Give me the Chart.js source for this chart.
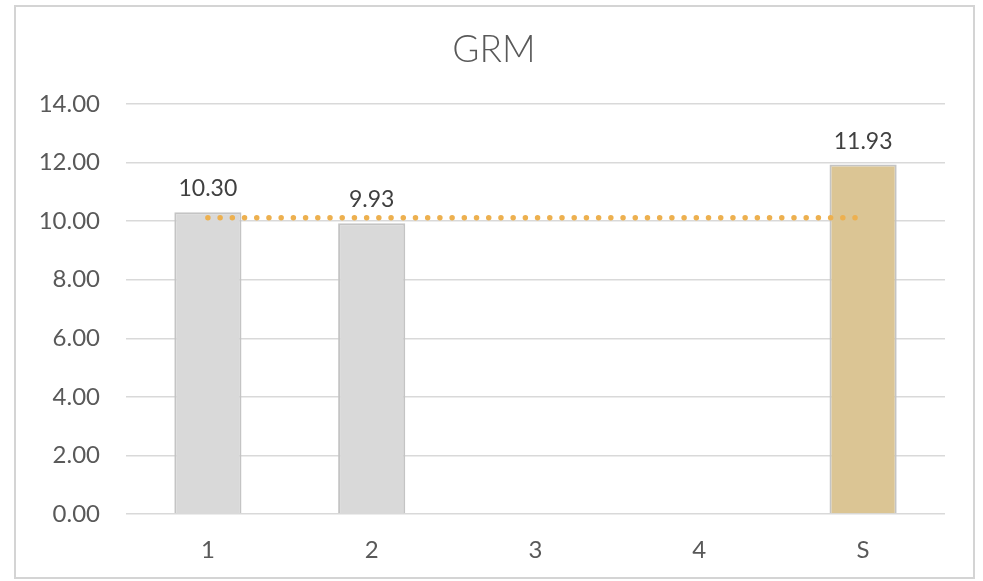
<!DOCTYPE html>
<html>
<head>
<meta charset="utf-8">
<script src="https://cdn.jsdelivr.net/npm/chart.js@4/dist/chart.umd.min.js"></script>
<style>
  html, body { margin: 0; padding: 0; background: #ffffff; }
  #wrap { position: relative; width: 983px; height: 581px; }
</style>
</head>
<body>
<div id="wrap"><canvas id="grm" width="983" height="581"></canvas></div>
<script>
// Chart data
const chartTitle = 'GRM';
const categories = ['1', '2', '3', '4', 'S'];
const grmValues = [10.30, 9.93, null, null, 11.93];
const averageValues = [10.12, 10.12, 10.12, 10.12, 10.12];
const barColors = ['#d9d9d9', '#d9d9d9', '#d9d9d9', '#d9d9d9', '#dbc594'];
const yTicks = { min: 0, max: 14, step: 2 };

const FONT = 'Lato, "Open Sans", sans-serif';

// Frame around the chart and the centred title
const framePlugin = {
  id: 'frame',
  beforeDraw(chart) {
    const ctx = chart.ctx;
    ctx.save();
    ctx.fillStyle = '#ffffff';
    ctx.fillRect(0, 0, chart.width, chart.height);
    ctx.strokeStyle = '#d4d4d4';
    ctx.lineWidth = 2;
    ctx.strokeRect(15, 6, 959, 572);
    ctx.font = '300 37px ' + FONT;
    ctx.fillStyle = '#595959';
    ctx.textAlign = 'center';
    ctx.textBaseline = 'middle';
    ctx.fillText(chartTitle, 494, 50);
    ctx.restore();
  }
};

// Value labels above the bars
const valueLabels = {
  id: 'valueLabels',
  afterDatasetsDraw(chart) {
    const ctx = chart.ctx;
    const meta = chart.getDatasetMeta(1);
    ctx.save();
    ctx.font = '400 23px ' + FONT;
    ctx.fillStyle = '#404040';
    ctx.textAlign = 'center';
    ctx.textBaseline = 'alphabetic';
    meta.data.forEach((bar, i) => {
      const v = grmValues[i];
      if (v === null || v === undefined) return;
      ctx.fillText(v.toFixed(2), bar.x, bar.y - 16);
    });
    ctx.restore();
  }
};

new Chart(document.getElementById('grm'), {
  data: {
    labels: categories,
    datasets: [
      {
        type: 'line',
        label: 'Average',
        data: averageValues,
        borderColor: '#edb04f',
        borderWidth: 5.5,
        borderDash: [0.01, 12.2],
        borderCapStyle: 'round',
        pointRadius: 0,
        fill: false,
        order: 0
      },
      {
        type: 'bar',
        label: 'GRM',
        data: grmValues,
        backgroundColor: barColors,
        borderColor: '#c4c4c4',
        borderWidth: 2,
        barPercentage: 1,
        categoryPercentage: 0.41,
        order: 1
      }
    ]
  },
  options: {
    responsive: false,
    animation: false,
    devicePixelRatio: 1,
    layout: { padding: { top: 104, right: 38, bottom: 0, left: 0 } },
    plugins: {
      legend: { display: false },
      tooltip: { enabled: false },
      title: { display: false }
    },
    scales: {
      x: {
        grid: { display: false, drawTicks: false },
        border: { display: false },
        ticks: {
          color: '#595959',
          font: { family: FONT, size: 24, weight: '400' },
          padding: 22
        },
        afterFit(scale) { scale.height = 67; }
      },
      y: {
        min: yTicks.min,
        max: yTicks.max,
        grid: { color: '#d9d9d9', lineWidth: 1.5, drawTicks: false },
        border: { display: false },
        ticks: {
          stepSize: yTicks.step,
          color: '#595959',
          font: { family: FONT, size: 24, weight: '400' },
          padding: 26,
          callback: (v) => Number(v).toFixed(2)
        },
        afterFit(scale) { scale.width = 126; }
      }
    }
  },
  plugins: [framePlugin, valueLabels]
});
</script>
</body>
</html>
